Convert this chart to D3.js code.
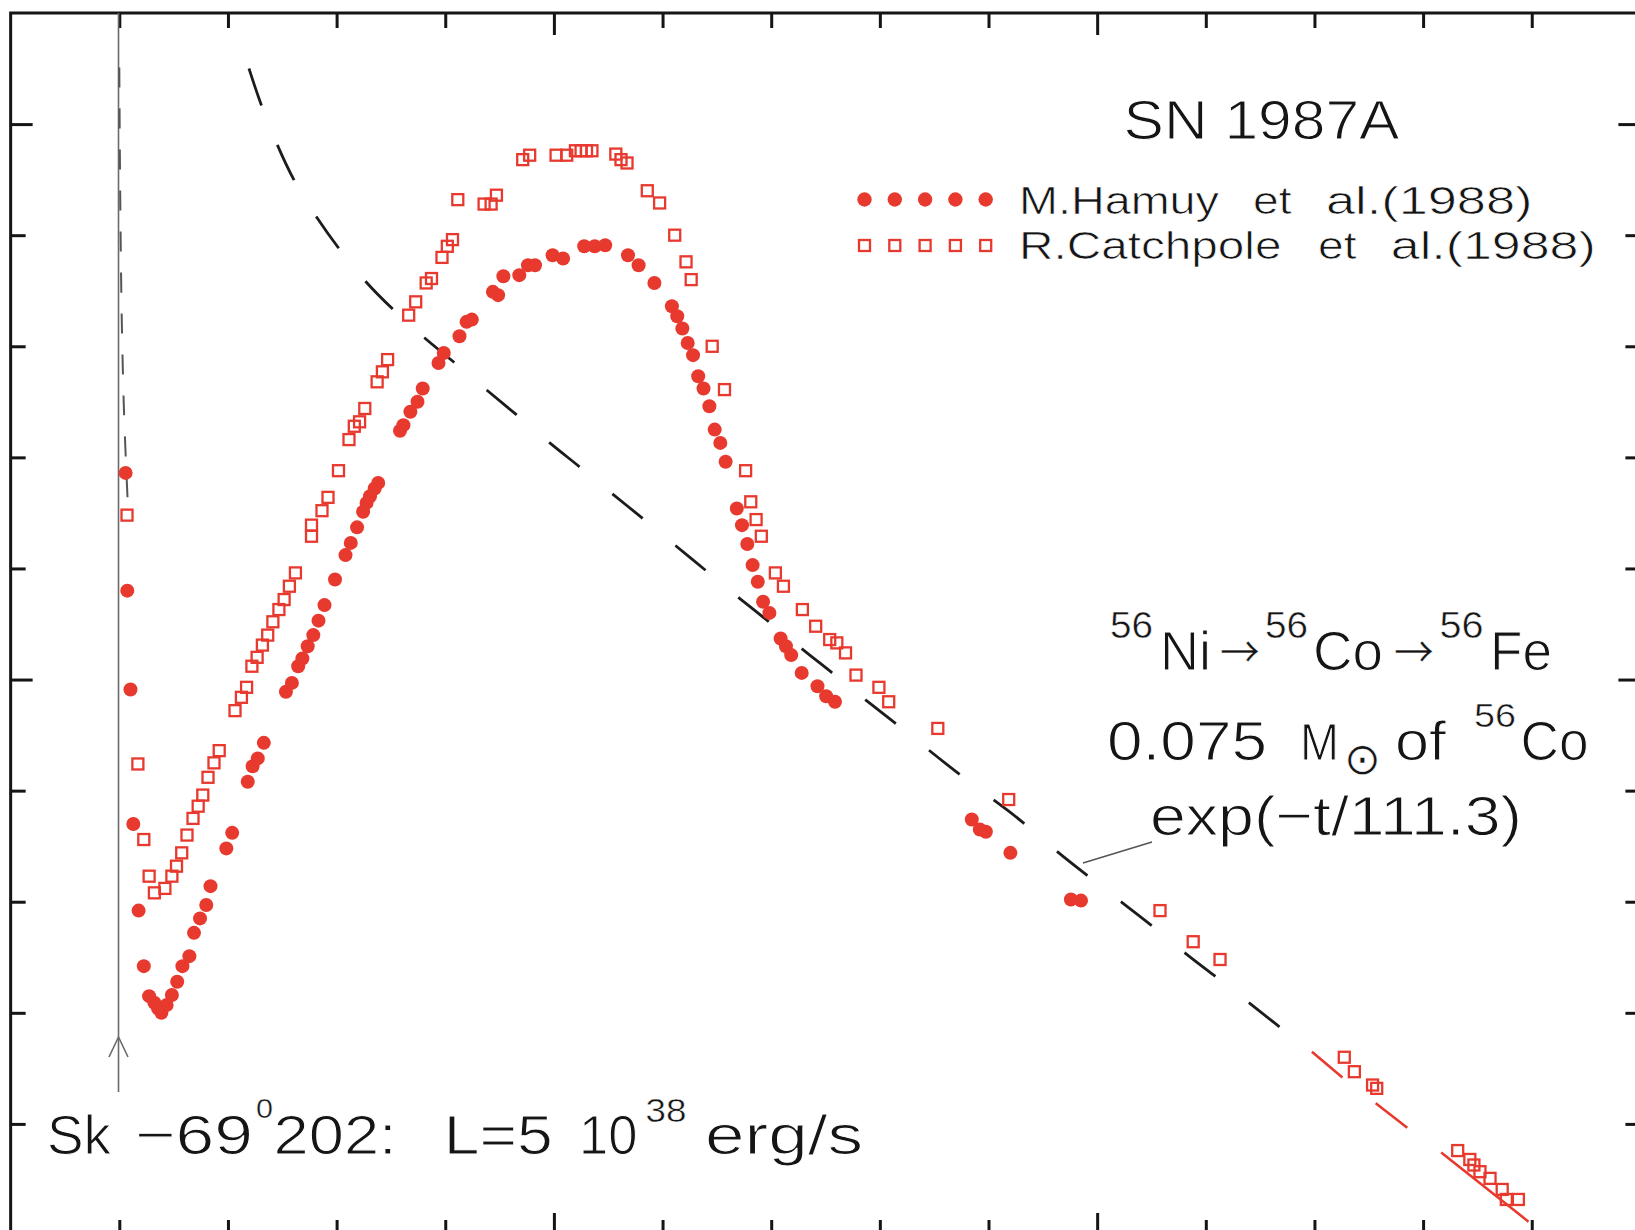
<!DOCTYPE html>
<html>
<head>
<meta charset="utf-8">
<script src="https://cdn.jsdelivr.net/npm/d3@7"></script>
<style>
  html, body { margin: 0; padding: 0; background: #fff; }
  svg { display: block; }
  text { font-family: "Liberation Sans", Arial, sans-serif; fill: #151515; white-space: pre; }
</style>
</head>
<body>
<svg id="chart" width="1635" height="1230"></svg>
<script>
// SN 1987A bolometric light curve: days after explosion vs log10 L (erg/s)

// M. Hamuy et al. (1988), filled circles
const hamuyDays = [1.16,1.47,2.06,2.58,3.55,4.51,5.49,6.46,7.12,7.75,
  8.71,9.68,10.66,11.62,12.90,13.75,14.86,16.01,16.79,19.70,
  20.78,23.64,24.54,25.49,26.60,30.67,31.77,32.93,33.70,34.68,
  35.71,36.67,37.77,39.71,41.64,42.61,43.77,44.88,45.52,46.15,
  47.01,47.66,51.67,52.30,53.58,54.89,55.85,58.76,59.73,62.62,
  63.93,64.89,68.77,69.73,70.70,73.63,75.23,76.52,79.76,81.69,
  85.58,87.51,89.44,93.64,95.59,98.50,101.72,102.70,103.65,104.63,
  105.61,106.56,107.54,108.62,109.60,110.63,111.61,113.67,114.62,115.60,
  116.58,117.53,118.51,119.67,121.73,122.71,123.68,125.61,128.52,130.12,
  131.74,156.92,158.40,159.52,164.03,175.17,177.03];
const hamuyLogL = [41.686,41.580,41.491,41.370,41.292,41.242,41.215,41.209,41.204,41.200,
  41.207,41.216,41.228,41.242,41.251,41.272,41.285,41.297,41.314,41.348,
  41.362,41.408,41.422,41.429,41.443,41.489,41.497,41.512,41.519,41.530,
  41.540,41.553,41.567,41.590,41.612,41.623,41.637,41.651,41.659,41.665,
  41.672,41.677,41.724,41.729,41.741,41.750,41.762,41.785,41.794,41.809,
  41.822,41.824,41.849,41.846,41.863,41.864,41.873,41.873,41.882,41.879,
  41.890,41.890,41.891,41.882,41.873,41.857,41.836,41.827,41.816,41.803,
  41.792,41.773,41.762,41.746,41.725,41.713,41.696,41.654,41.639,41.622,
  41.603,41.588,41.570,41.560,41.537,41.530,41.522,41.506,41.494,41.485,
  41.480,41.374,41.365,41.363,41.344,41.302,41.301];

// R. Catchpole et al. (1988), open squares
const catchpoleDays = [1.42,3.42,4.51,5.49,6.46,8.39,9.68,10.53,11.49,12.46,
  13.57,14.52,15.37,16.33,17.43,18.39,21.30,22.48,23.43,24.41,
  25.37,26.34,27.32,28.27,29.38,30.34,31.31,32.42,35.38,35.38,
  37.31,38.42,40.35,42.28,43.26,44.23,45.19,47.46,48.43,49.39,
  53.27,54.56,56.49,57.47,59.40,60.38,61.33,62.31,67.15,68.44,
  69.42,74.26,75.54,80.40,82.36,83.96,85.00,86.00,87.00,91.40,
  92.35,93.46,97.19,99.46,102.24,104.32,105.27,109.14,111.40,115.29,
  116.24,117.22,118.18,120.77,122.25,125.74,128.19,130.77,132.08,133.68,
  135.61,139.83,141.63,150.67,163.72,191.57,197.68,202.62,225.49,227.35,
  230.70,231.46,246.37,248.60,249.35,250.47,252.32,254.56,255.32,257.54];
const catchpoleLogL = [41.648,41.424,41.356,41.323,41.308,41.312,41.323,41.332,41.344,41.360,
  41.375,41.386,41.396,41.412,41.425,41.436,41.472,41.484,41.493,41.512,
  41.520,41.531,41.540,41.552,41.563,41.572,41.584,41.596,41.629,41.639,
  41.652,41.664,41.688,41.716,41.728,41.732,41.744,41.768,41.777,41.788,
  41.828,41.840,41.857,41.861,41.880,41.890,41.896,41.932,41.928,41.928,
  41.936,41.968,41.972,41.972,41.972,41.976,41.976,41.976,41.976,41.973,
  41.968,41.965,41.940,41.929,41.900,41.876,41.860,41.800,41.761,41.688,
  41.660,41.644,41.629,41.596,41.584,41.563,41.548,41.536,41.533,41.524,
  41.504,41.493,41.480,41.456,41.392,41.292,41.264,41.248,41.160,41.147,
  41.135,41.132,41.076,41.068,41.063,41.057,41.051,41.041,41.032,41.032];

// Radioactive-decay deposition curve (56Ni -> 56Co -> 56Fe)
const decayDays = [23.87,26.14,29.05,32.16,36.15,40.35,45.19,50.36,56.18,61.85,
  67.46,73.28,79.12,84.93,90.75,96.42,102.24,108.05,113.85,119.67,
  125.49,131.30,137.23,143.05,148.86,154.79,160.81,165.62,172.55,178.13,
  184.33,190.28,195.99,202.01,207.95,213.66];
const decayLogL = [42.050,42.016,41.981,41.948,41.917,41.888,41.858,41.833,41.807,41.785,
  41.761,41.738,41.713,41.691,41.667,41.645,41.621,41.598,41.574,41.552,
  41.528,41.506,41.482,41.460,41.437,41.414,41.392,41.375,41.345,41.324,
  41.300,41.278,41.254,41.232,41.209,41.187];

// Late-time tail of the same curve, drawn in red
const tailDays = [219.53,225.33,231.46,237.22,243.39,259.40];
const tailLogL = [41.165,41.141,41.118,41.096,41.074,41.012];

// Early cooling curve right after the explosion
const coolingDays = [0.00,0.09,0.22,0.40,0.68,0.96,1.51];
const coolingLogL = [42.051,41.977,41.905,41.833,41.770,41.725,41.664];

// Tick positions (no tick labels are drawn)
const xMinorTicks = [0,20,40,60,100,120,140,160,200,220,240,260];
const xMajorTicks = [80,180];
const yMinorTicks = [41.1,41.2,41.3,41.4,41.6,41.7,41.8,41.9];
const yMajorTicks = [41.5,42.0];

const RED = "#e8392f";
const INK = "#151515";

const svg = d3.select("#chart");
const x = d3.scaleLinear().domain([-20, 280]).range([10.65, 1640.4]);
const y = d3.scaleLinear().domain([41.0, 42.1]).range([1235, 13]);

const zip = (a, b) => a.map((v, i) => [v, b[i]]);

// Frame
svg.append("rect")
  .attr("x", x(-20)).attr("y", y(42.1))
  .attr("width", x(280) - x(-20)).attr("height", y(41.0) - y(42.1))
  .attr("fill", "none").attr("stroke", INK).attr("stroke-width", 3);

function tickSet(axisFn, scale, values, size, tx, ty) {
  const g = svg.append("g")
    .attr("transform", `translate(${tx},${ty})`)
    .call(axisFn(scale).tickValues(values).tickSize(size).tickFormat(""));
  g.select(".domain").remove();
  g.selectAll(".tick text").remove();
  g.selectAll(".tick line").attr("stroke", INK).attr("stroke-width", 3);
}
// inward-pointing ticks on all four sides
tickSet(d3.axisBottom, x, xMinorTicks, 15, 0, y(42.1));
tickSet(d3.axisBottom, x, xMajorTicks, 22, 0, y(42.1));
tickSet(d3.axisTop, x, xMinorTicks, 15, 0, y(41.0));
tickSet(d3.axisTop, x, xMajorTicks, 22, 0, y(41.0));
tickSet(d3.axisRight, y, yMinorTicks, 15, x(-20), 0);
tickSet(d3.axisRight, y, yMajorTicks, 22, x(-20), 0);
tickSet(d3.axisLeft, y, yMinorTicks, 15, x(280), 0);
tickSet(d3.axisLeft, y, yMajorTicks, 22, x(280), 0);

// Explosion epoch marker with arrow
const x0 = x(0) - 0.8;
svg.append("line")
  .attr("x1", x0).attr("x2", x0).attr("y1", y(42.1)).attr("y2", 1092)
  .attr("stroke", "#6a6a6a").attr("stroke-width", 1.6);
svg.append("polyline")
  .attr("points", `${x0 - 9.5},1057 ${x0},1037 ${x0 + 9.5},1057`)
  .attr("fill", "none").attr("stroke", "#6a6a6a").attr("stroke-width", 1.6);

const line = d3.line().x(d => x(d[0])).y(d => y(d[1])).curve(d3.curveBasis);

// Early cooling curve
svg.append("path")
  .attr("d", line(zip(coolingDays, coolingLogL)))
  .attr("fill", "none").attr("stroke", "#555").attr("stroke-width", 2)
  .attr("stroke-dasharray", "20 21");

// Decay curve (black) and its late tail (red)
svg.append("path")
  .attr("d", line(zip(decayDays, decayLogL)))
  .attr("fill", "none").attr("stroke", "#1c1c1c").attr("stroke-width", 2.8)
  .attr("stroke-dasharray", "39 42.5");
svg.append("path")
  .attr("d", d3.line().x(d => x(d[0])).y(d => y(d[1]))(zip(tailDays, tailLogL)))
  .attr("fill", "none").attr("stroke", RED).attr("stroke-width", 2.6)
  .attr("stroke-dasharray", "40 42 40 42 200");

// Data points
svg.append("g").selectAll("circle")
  .data(zip(hamuyDays, hamuyLogL)).join("circle")
  .attr("cx", d => x(d[0])).attr("cy", d => y(d[1])).attr("r", 7)
  .attr("fill", RED);

const sq = 11;
svg.append("g").selectAll("rect")
  .data(zip(catchpoleDays, catchpoleLogL)).join("rect")
  .attr("x", d => x(d[0]) - sq / 2).attr("y", d => y(d[1]) - sq / 2)
  .attr("width", sq).attr("height", sq)
  .attr("fill", "none").attr("stroke", RED).attr("stroke-width", 2.3);

// Legend
const legendX = [864.5, 894.8, 925.1, 955.4, 985.7];
svg.append("g").selectAll("circle").data(legendX).join("circle")
  .attr("cx", d => d).attr("cy", 199.5).attr("r", 7.2).attr("fill", RED);
svg.append("g").selectAll("rect").data(legendX).join("rect")
  .attr("x", d => d - sq / 2).attr("y", 245.5 - sq / 2)
  .attr("width", sq).attr("height", sq)
  .attr("fill", "none").attr("stroke", RED).attr("stroke-width", 2.3);

// One text element per line; each run: [string, x, baseline, size, width, thin-stroke, family]
function textLine(runs) {
  const t = svg.append("text");
  runs.forEach(([s, tx, ty, size, width, thin, family]) => {
    const r = t.append("tspan")
      .attr("x", tx).attr("y", ty)
      .attr("font-size", size)
      .text(s);
    if (width) r.attr("textLength", width).attr("lengthAdjust", "spacingAndGlyphs");
    if (thin) r.attr("stroke", "#fff").attr("stroke-width", thin);
    if (family) r.style("font-family", family);
  });
  return t;
}

const BIG = 56, SUP = 36, ARROW = "Noto Sans CJK SC";

textLine([["SN 1987A", 1123.5, 138.5, 55, 276, 1.1]]);

textLine([
  ["M.Hamuy", 1019, 213.5, 39, 200, 0.7],
  ["et", 1253, 213.5, 39, 38.5, 0.7],
  ["al.(1988)", 1326, 213.5, 39, 206.5, 0.7]
]);
textLine([
  ["R.Catchpole", 1019, 258.5, 39, 262.5, 0.7],
  ["et", 1318, 258.5, 39, 38.5, 0.7],
  ["al.(1988)", 1390.8, 258.5, 39, 205, 0.7]
]);

// 56Ni -> 56Co -> 56Fe
textLine([
  ["56", 1110, 638, SUP, 43, 0.5],
  ["Ni", 1160, 670, BIG, 51, 1.1],
  ["\u2192", 1220, 668, 43, 40, 0.4, ARROW],
  ["56", 1265, 638, SUP, 43, 0.5],
  ["Co", 1313, 670, BIG, 70, 1.1],
  ["\u2192", 1394, 668, 43, 40, 0.4, ARROW],
  ["56", 1439.4, 638, SUP, 44, 0.5],
  ["Fe", 1490, 670, BIG, 62, 1.1]
]);

// 0.075 Msun of 56Co
textLine([
  ["0.075", 1107, 759.5, BIG, 160, 1.1],
  ["M", 1300, 759.5, 52, 39, 1.1],
  ["\u2299", 1344, 774, 44, null, 0.5, "DejaVu Sans"],
  ["of", 1395, 759.5, BIG, 51, 1.1],
  ["56", 1474, 727, 34, 42, 0.5],
  ["Co", 1520.5, 759.5, BIG, 68, 1.1]
]);

// exp(-t/111.3) with leader to the curve
textLine([["exp(\u2212t/111.3)", 1150, 835, BIG, 372, 1.1]]);
svg.append("line")
  .attr("x1", 1083).attr("y1", 863).attr("x2", 1152).attr("y2", 842)
  .attr("stroke", "#555").attr("stroke-width", 1.6);

// Progenitor luminosity note
textLine([
  ["Sk", 47, 1154, BIG, 64, 1.1],
  ["\u221269", 135, 1154, BIG, 118, 1.1],
  ["0", 256, 1118, 27, 17, 0.4],
  ["202:", 273.6, 1154, BIG, 123, 1.1],
  ["L=5", 443.8, 1154, BIG, 109, 1.1],
  ["10", 579, 1154, BIG, 58.5, 1.1],
  ["38", 645.6, 1121.5, 33, 41, 0.5],
  ["erg/s", 705, 1154, BIG, 158, 1.1]
]);
</script>
</body>
</html>
